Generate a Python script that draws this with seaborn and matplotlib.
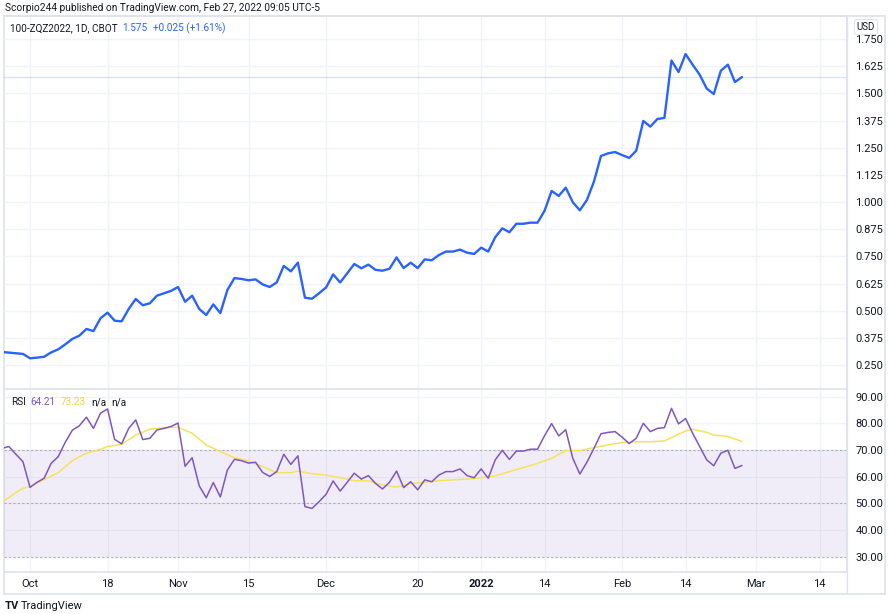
import numpy as np
import pandas as pd
import seaborn as sns
import matplotlib.pyplot as plt

# trading days on the chart (exchange holidays left out)
holidays = ["2021-11-25", "2021-12-24", "2022-01-17", "2022-02-21"]
days = pd.bdate_range("2021-09-27", "2022-03-31")
days = days[~days.isin(pd.to_datetime(holidays))]

# daily close, Sep 27 2021 -> Feb 25 2022
price = [0.310, 0.307, 0.304, 0.301, 0.281, 0.284, 0.288, 0.308, 0.322, 0.345,
         0.370, 0.385, 0.416, 0.406, 0.465, 0.491, 0.454, 0.451, 0.508, 0.554,
         0.525, 0.534, 0.569, 0.580, 0.591, 0.609, 0.541, 0.569, 0.508, 0.480,
         0.529, 0.489, 0.595, 0.650, 0.646, 0.640, 0.644, 0.621, 0.609, 0.630,
         0.706, 0.681, 0.721, 0.560, 0.555, 0.580, 0.607, 0.667, 0.630, 0.672,
         0.715, 0.695, 0.712, 0.688, 0.684, 0.693, 0.745, 0.696, 0.721, 0.696,
         0.736, 0.732, 0.756, 0.772, 0.772, 0.781, 0.767, 0.761, 0.790, 0.772,
         0.838, 0.879, 0.861, 0.900, 0.900, 0.905, 0.905, 0.960, 1.051, 1.028,
         1.066, 0.999, 0.962, 1.009, 1.094, 1.212, 1.224, 1.230, 1.216, 1.203,
         1.236, 1.373, 1.347, 1.382, 1.387, 1.651, 1.598, 1.681, 1.632, 1.586,
         1.522, 1.497, 1.604, 1.632, 1.552, 1.575]

rsi = [70.6, 71.3, 68.4, 65.6, 56.0, 57.9, 59.4, 65.0, 67.5, 72.9,
       77.4, 79.1, 82.3, 78.1, 83.8, 85.4, 74.0, 72.3, 78.1, 81.3,
       73.9, 74.4, 77.5, 78.1, 78.8, 80.1, 63.9, 67.1, 56.6, 52.1,
       57.8, 52.4, 62.5, 66.5, 66.0, 65.1, 65.4, 61.6, 60.1, 61.9,
       68.4, 64.6, 67.8, 48.8, 48.1, 50.6, 53.4, 58.4, 54.6, 57.9,
       61.3, 59.1, 60.4, 57.5, 55.4, 57.9, 62.1, 55.9, 58.1, 55.1,
       58.8, 58.1, 60.6, 61.9, 61.9, 62.9, 60.4, 59.6, 62.9, 59.4,
       66.3, 69.9, 66.5, 69.6, 69.6, 70.3, 70.3, 75.4, 79.9, 75.3,
       77.6, 66.9, 61.0, 65.4, 70.6, 76.1, 76.6, 76.9, 74.8, 72.4,
       74.4, 80.0, 76.9, 78.1, 78.4, 85.6, 79.8, 81.8, 76.3, 71.3,
       66.3, 64.1, 68.8, 69.9, 63.1, 64.2]

# RSI moving average, read at these days
ma_dates = ["2021-09-27", "2021-09-28", "2021-09-29", "2021-09-30", "2021-10-01",
            "2021-10-05", "2021-10-07", "2021-10-11", "2021-10-13", "2021-10-15",
            "2021-10-18", "2021-10-20", "2021-10-22", "2021-10-26", "2021-10-28",
            "2021-11-01", "2021-11-03", "2021-11-05", "2021-11-09", "2021-11-11",
            "2021-11-15", "2021-11-17", "2021-11-19", "2021-11-23", "2021-11-24",
            "2021-11-29", "2021-12-01", "2021-12-03", "2021-12-07", "2021-12-09",
            "2021-12-13", "2021-12-15", "2021-12-17", "2021-12-21", "2021-12-23",
            "2021-12-28", "2021-12-30", "2022-01-03", "2022-01-05", "2022-01-07",
            "2022-01-11", "2022-01-13", "2022-01-18", "2022-01-20", "2022-01-24",
            "2022-01-26", "2022-01-28", "2022-02-01", "2022-02-03", "2022-02-07",
            "2022-02-09", "2022-02-11", "2022-02-14", "2022-02-15", "2022-02-17",
            "2022-02-18", "2022-02-23", "2022-02-25"]
ma_vals = [50.5, 52.1, 54.1, 55.6, 56.3, 58.9, 61.5, 66.0, 68.8, 70.3,
           71.3, 72.1, 75.6, 77.8, 78.4, 78.5, 76.3, 71.9, 69.4, 67.1,
           65.9, 63.8, 61.5, 61.5, 62.1, 61.1, 60.6, 59.6, 58.5, 58.4,
           56.9, 56.1, 57.4, 57.9, 58.5, 58.8, 59.1, 59.6, 60.3, 61.9,
           63.4, 65.0, 66.9, 69.8, 69.8, 70.9, 71.9, 72.8, 73.1, 73.1,
           73.4, 75.9, 77.1, 77.8, 76.6, 75.6, 75.1, 73.2]

tick_dates = ["2021-10-01", "2021-10-18", "2021-11-01", "2021-11-15", "2021-12-01",
              "2021-12-20", "2022-01-03", "2022-01-14", "2022-02-01", "2022-02-14",
              "2022-03-01", "2022-03-14"]
tick_labels = ["Oct", "18", "Nov", "15", "Dec", "20", "2022", "14", "Feb", "14", "Mar", "14"]
price_ticks = [0.250, 0.375, 0.500, 0.625, 0.750, 0.875, 1.000, 1.125, 1.250, 1.375,
               1.500, 1.625, 1.750]
rsi_ticks = [30, 40, 50, 60, 70, 80, 90]

pos = pd.Series(np.arange(len(days)), index=days)
df = pd.DataFrame({"pos": np.arange(len(price)), "price": price, "rsi": rsi})
ma_df = pd.DataFrame({"pos": pos[pd.to_datetime(ma_dates)].values, "ma": ma_vals})
tick_pos = pos[pd.to_datetime(tick_dates)].values

sns.set_theme(style="white")
plt.rcParams["font.family"] = ["Roboto", "DejaVu Sans"]

W, H = 888, 614
fig = plt.figure(figsize=(W / 100, H / 100), dpi=100)
renderer = fig.canvas.get_renderer()


def box(x0, y0, x1, y1):
    return [x0 / W, 1 - y1 / H, (x1 - x0) / W, (y1 - y0) / H]


border = "#E0E3EB"
grid = "#F0F3FA"
txt = "#131722"

frame = fig.add_axes(box(4, 16, 885, 594))
frame.set_xticks([])
frame.set_yticks([])
frame.set_xlim(4, 885)
frame.set_ylim(594, 16)
frame.axvline(847, color=border, lw=1)
for s in frame.spines.values():
    s.set_color(border)

ax1 = fig.add_axes(box(4, 16, 847, 389))
ax2 = fig.add_axes(box(4, 389, 847, 572))

# price pane
ax1.axhline(price[-1], color="#2962FF", alpha=0.18, lw=1)
sns.lineplot(data=df, x="pos", y="price", ax=ax1, color="#2962FF", linewidth=1.7)
ax1.set_ylim(0.1396, 1.856)

# rsi pane
ax2.axhspan(30, 70, color="#7E57C2", alpha=0.1, lw=0)
for lvl in [70, 50, 30]:
    ax2.axhline(lvl, color="#9598A1", lw=0.8, ls=(0, (2, 2)), alpha=0.7)
sns.lineplot(data=ma_df, x="pos", y="ma", ax=ax2, color="#F7E25A", linewidth=1.1)
sns.lineplot(data=df, x="pos", y="rsi", ax=ax2, color="#7E57C2", linewidth=1.1)
ax2.set_ylim(24.26, 92.87)

for ax in (ax1, ax2):
    ax.set_xlim(0.31, 119.9)
    ax.set_xticks(tick_pos)
    ax.grid(True, color=grid, lw=1)
    ax.set_axisbelow(True)
    ax.yaxis.tick_right()
    ax.tick_params(length=0, labelsize=8, colors=txt, pad=6)
    ax.set_xlabel("")
    ax.set_ylabel("")
    for s in ax.spines.values():
        s.set_color(border)
    ax.spines["left"].set_visible(False)
    ax.patch.set_alpha(0)

ax1.set_yticks(price_ticks, [f"{v:.3f}" for v in price_ticks])
ax1.set_xticklabels([])
ax1.spines["bottom"].set_visible(False)
ax2.set_yticks(rsi_ticks, [f"{v:.2f}" for v in rsi_ticks])
ax2.set_xticks(tick_pos, tick_labels)
ax2.tick_params(axis="x", pad=5)
for lab in ax2.get_xticklabels():
    if lab.get_text() == "2022":
        lab.set_fontweight("bold")


def put(x, y, s, color=txt, size=7.2, **kw):
    t = fig.text(x / W, 1 - y / H, s, color=color, fontsize=size, va="center", **kw)
    return t.get_window_extent(renderer).x1


def row(x, y, parts, gap=5):
    # legend rows: each piece starts at its reference x, or after the previous one
    for ref_x, s, color in parts:
        x = put(max(ref_x, x + gap), y, s, color=color)


put(5, 8, "Scorpio244 published on TradingView.com, Feb 27, 2022 09:05 UTC-5", size=7.3)
row(0, 28, [(10, "100-ZQZ2022, 1D, CBOT", txt),
            (115, "1.575", "#2962FF"),
            (143, "+0.025 (+1.61%)", "#2962FF")])
row(0, 402, [(11, "RSI", txt),
             (28, "64.21", "#7E57C2"),
             (57, "73.23", "#F2D33C"),
             (85, "n/a", txt),
             (105, "n/a", txt)])
put(866, 27, "USD", size=7, ha="center",
    bbox=dict(boxstyle="round,pad=0.25", fc="white", ec=border, lw=0.8))
put(5, 606, "TV", size=8, fontweight="bold")
put(21, 606, "TradingView", size=8)

fig.savefig("out.png", dpi=100)
